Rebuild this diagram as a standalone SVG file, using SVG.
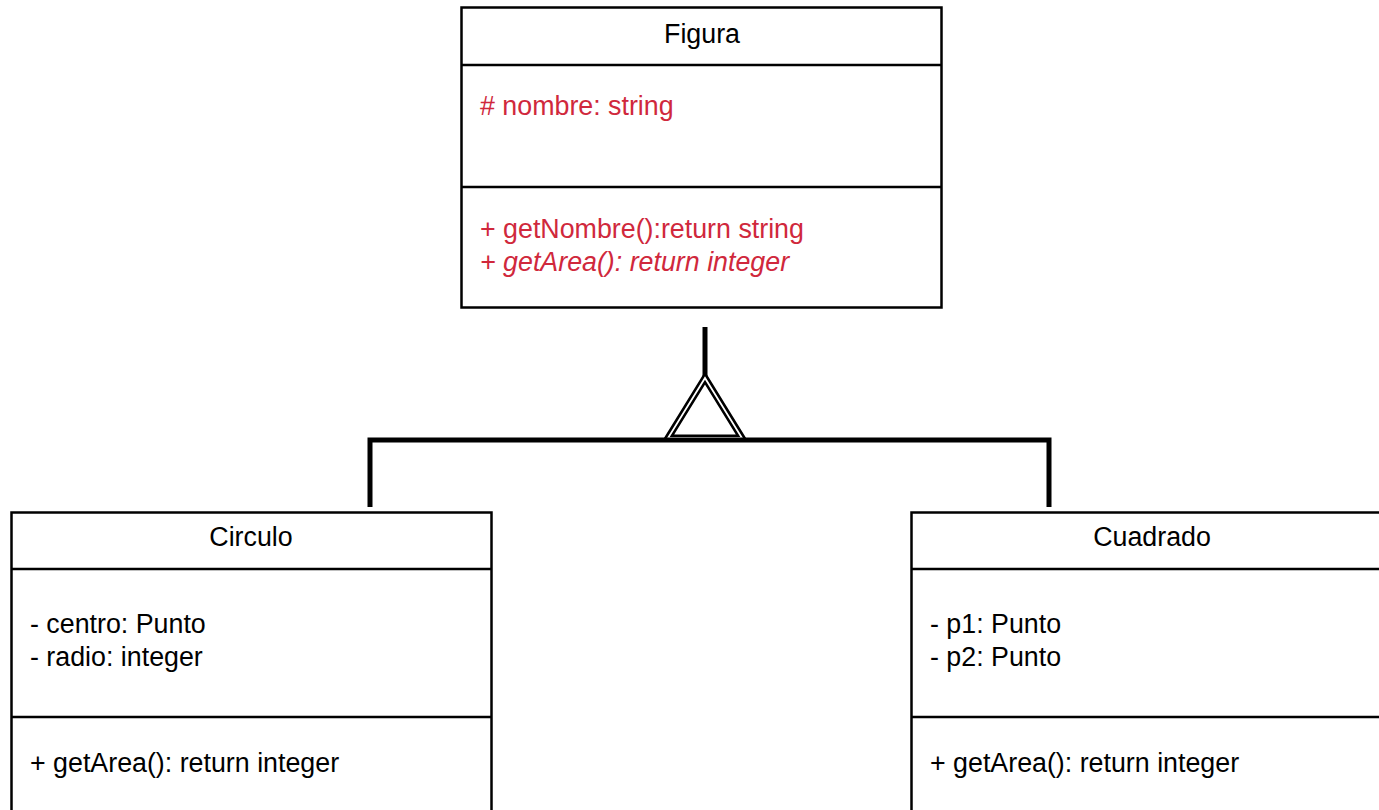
<svg xmlns="http://www.w3.org/2000/svg" width="1379" height="810" viewBox="0 0 1379 810">
  <style>
    .box { fill: #ffffff; stroke: #000000; stroke-width: 2.5; }
    .div { stroke: #000000; stroke-width: 2.5; }
    .title { font-family: "Liberation Sans", Arial, sans-serif; font-size: 26.8px; fill: #000000; text-anchor: middle; }
    .mem { font-family: "Liberation Sans", Arial, sans-serif; font-size: 26.8px; fill: #000000; }
    .red { fill: #d0283c; }
    .it { font-style: italic; }
    .link { fill: none; stroke: #000000; stroke-width: 5; }
  </style>

  <rect width="1379" height="810" fill="#ffffff"/>

  <!-- Generalization connector -->
  <g id="connectors">
    <line class="link" x1="705" y1="327" x2="705" y2="380"/>
    <polygon points="705,378 668,438 742,438" fill="none" stroke="#000000" stroke-width="7" stroke-linejoin="miter"/>
    <polygon points="705,378 668,438 742,438" fill="none" stroke="#ffffff" stroke-width="1.8"/>
    <polyline class="link" points="370,507 370,440 1049,440 1049,507"/>
  </g>

  <!-- Figura -->
  <g id="figura">
    <rect class="box" x="461.5" y="7.5" width="480" height="300"/>
    <line class="div" x1="461.5" y1="65" x2="941.5" y2="65"/>
    <line class="div" x1="461.5" y1="187" x2="941.5" y2="187"/>
    <text class="title" x="702" y="43">Figura</text>
    <text class="mem red" x="480" y="115"># nombre: string</text>
    <text class="mem red" x="480" y="238">+ getNombre():return string</text>
    <text class="mem red it" x="480" y="271">+ getArea(): return integer</text>
  </g>

  <!-- Circulo -->
  <g id="circulo">
    <rect class="box" x="11.5" y="512.5" width="480" height="320"/>
    <line class="div" x1="11.5" y1="569" x2="491.5" y2="569"/>
    <line class="div" x1="11.5" y1="717" x2="491.5" y2="717"/>
    <text class="title" x="251" y="546">Circulo</text>
    <text class="mem" x="30" y="633">- centro: Punto</text>
    <text class="mem" x="30" y="666">- radio: integer</text>
    <text class="mem" x="30" y="772">+ getArea(): return integer</text>
  </g>

  <!-- Cuadrado -->
  <g id="cuadrado">
    <rect class="box" x="911.5" y="512.5" width="480" height="320"/>
    <line class="div" x1="911.5" y1="569" x2="1391.5" y2="569"/>
    <line class="div" x1="911.5" y1="717" x2="1391.5" y2="717"/>
    <text class="title" x="1152" y="546">Cuadrado</text>
    <text class="mem" x="930" y="633">- p1: Punto</text>
    <text class="mem" x="930" y="666">- p2: Punto</text>
    <text class="mem" x="930" y="772">+ getArea(): return integer</text>
  </g>
</svg>
